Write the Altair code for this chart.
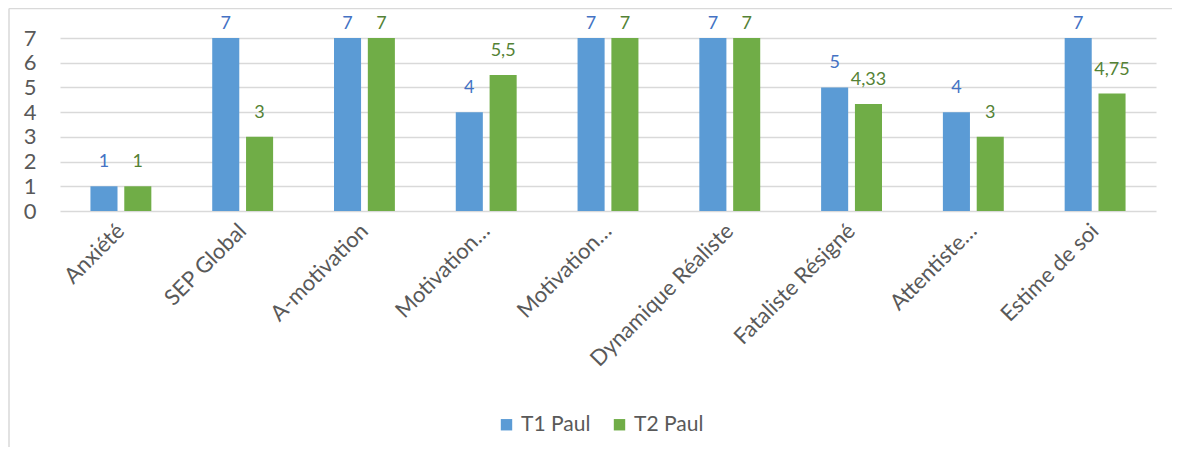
import altair as alt
import pandas as pd
import json

categories = ["Anxiété", "SEP Global", "A-motivation", "Motivation…", "Motivation…",
              "Dynamique Réaliste", "Fataliste Résigné", "Attentiste…", "Estime de soi"]
t1 = [1, 7, 7, 4, 7, 7, 5, 4, 7]
t2 = [1, 3, 7, 5.5, 7, 7, 4.33, 3, 4.75]
series = ["T1 Paul", "T2 Paul"]
bar_colors = ["#5B9BD5", "#70AD47"]
label_colors = ["#4472C4", "#548235"]


def fmt(v):
    s = ("%g" % v)
    return s.replace(".", ",")


rows = []
for i, c in enumerate(categories):
    for s, vals, lc in zip(series, [t1, t2], label_colors):
        v = vals[i]
        rows.append({"idx": i, "serie": s, "value": v, "label": fmt(v), "lcolor": lc})
df = pd.DataFrame(rows)

font = "Lato"
label_expr = json.dumps(categories) + "[datum.value]"

x = alt.X("idx:O", axis=alt.Axis(labelExpr=label_expr, labelAngle=-45, labelAlign="right",
                                  labelBaseline="middle", labelFontSize=22, labelColor="#595959",
                                  labelFont=font, ticks=False, domain=False, title=None,
                                  labelPadding=16, labelLimit=400),
          scale=alt.Scale(paddingInner=0.5, paddingOuter=0.25))
xo = alt.XOffset("serie:N", scale=alt.Scale(paddingInner=0.2, paddingOuter=0))
y = alt.Y("value:Q", scale=alt.Scale(domain=[0, 7], nice=False),
          axis=alt.Axis(values=[0, 1, 2, 3, 4, 5, 6, 7], labelFontSize=22, labelColor="#595959",
                        labelFont=font, ticks=False, domain=False, title=None,
                        gridColor="#D9D9D9", gridWidth=1.5, labelPadding=24))

base = alt.Chart(df)

bars = base.mark_bar().encode(
    x=x, xOffset=xo, y=y,
    color=alt.Color("serie:N", scale=alt.Scale(domain=series, range=bar_colors),
                    legend=alt.Legend(title=None, orient="none", legendX=436, legendY=376,
                                      direction="horizontal", symbolType="square",
                                      symbolSize=130, labelFontSize=21, labelFont=font,
                                      labelColor="#595959", columnPadding=18,
                                      symbolStrokeWidth=0)),
)

labels_top = base.transform_filter("datum.value >= 7").mark_text(
    baseline="bottom", dy=-5, fontSize=18, font=font).encode(
    x=x, xOffset=xo, y=y, text="label:N", color=alt.Color("lcolor:N", scale=None))

labels_rest = base.transform_filter("datum.value < 7").mark_text(
    baseline="bottom", dy=-15, fontSize=18, font=font).encode(
    x=x, xOffset=xo, y=y, text="label:N", color=alt.Color("lcolor:N", scale=None))

frame = pd.DataFrame({"a": [0]})
border_top = alt.Chart(frame).mark_rule(stroke="#D9D9D9", strokeWidth=1.5).encode(
    x=alt.value(-51), x2=alt.value(1200), y=alt.value(-29.5))
border_left = alt.Chart(frame).mark_rule(stroke="#D9D9D9", strokeWidth=1.5).encode(
    x=alt.value(-51), y=alt.value(-29.5), y2=alt.value(480))

chart = alt.layer(border_top, border_left, bars, labels_top, labels_rest).properties(
    width=1096, height=173,
    autosize=alt.AutoSizeParams(type="none"),
    padding={"left": 52, "top": 30, "right": 16, "bottom": 236},
    background="white",
).configure_view(stroke=None)

chart.save("out.html", embed_options={"renderer": "svg", "actions": False})
